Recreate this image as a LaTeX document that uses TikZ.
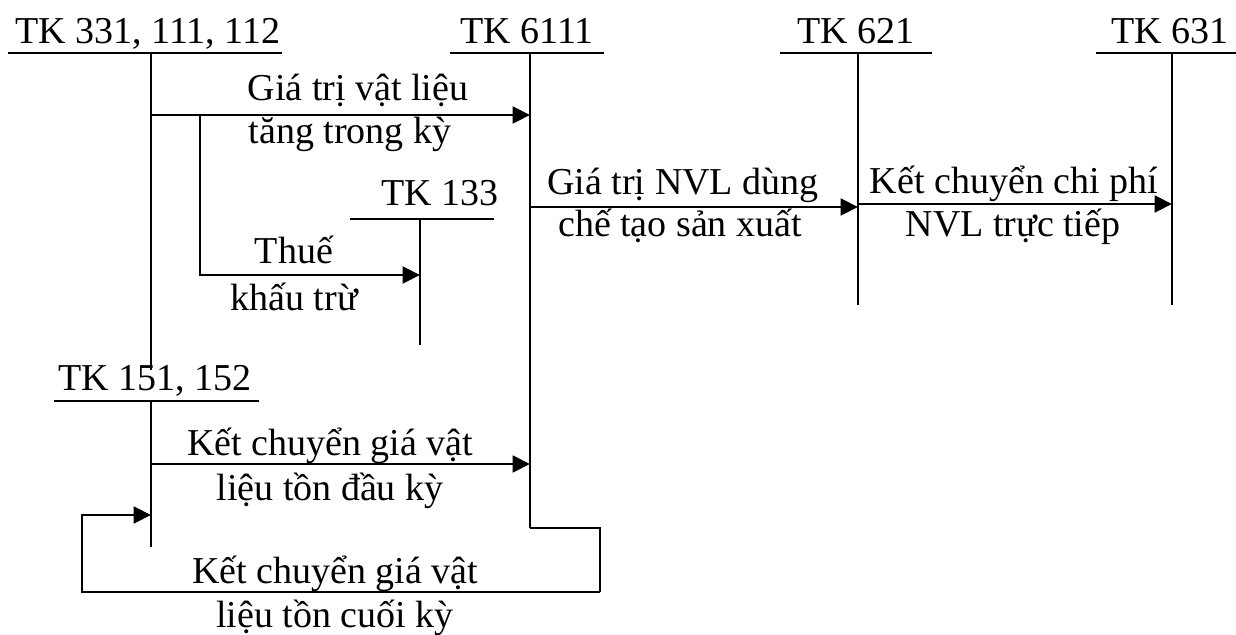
\documentclass[tikz,border=0pt]{standalone}
\usepackage{fontspec}
\setmainfont{Liberation Serif}
\usetikzlibrary{arrows.meta}
\begin{document}
\begin{tikzpicture}[x=0.75pt,y=-0.75pt,
  acct/.style={line width=1.5pt},
  flow/.style={line width=2.2pt,-{Triangle[length=13pt,width=12.5pt]}},
  lbl/.style={font=\fontsize{28.5}{32}\selectfont, inner sep=0pt, anchor=base}]
\useasboundingbox (0,0) rectangle (1236,635);

% account headings
\node[lbl] (h331)  at (148,44)  {TK 331, 111, 112};
\node[lbl] (h6111) at (527,44)  {TK 6111};
\node[lbl] (h621)  at (856,44)  {TK 621};
\node[lbl] (h631)  at (1170,44) {TK 631};
\node[lbl] (h133)  at (440,205) {TK 133};
\node[lbl] (h151)  at (155,390) {TK 151, 152};

% T-account rules
\coordinate (u331a) at (8,53);    \coordinate (u331b) at (282,53);
\coordinate (t331)  at (151,53);  \coordinate (b331)  at (151,370);
\coordinate (u6111a) at (450,53); \coordinate (u6111b) at (604,53);
\coordinate (t6111) at (530,53);  \coordinate (b6111) at (530,528);
\coordinate (u621a) at (780,53);  \coordinate (u621b) at (932,53);
\coordinate (t621)  at (858,53);  \coordinate (b621)  at (858,305);
\coordinate (u631a) at (1096,53); \coordinate (u631b) at (1236,53);
\coordinate (t631)  at (1172,53); \coordinate (b631)  at (1172,305);
\coordinate (u133a) at (350,219); \coordinate (u133b) at (494,219);
\coordinate (t133)  at (420,219); \coordinate (b133)  at (420,345);
\coordinate (u151a) at (54,401);  \coordinate (u151b) at (259,401);
\coordinate (t151)  at (151,401); \coordinate (b151)  at (151,547);

\draw[acct] (u331a) -- (u331b) (t331) -- (b331);
\draw[acct] (u6111a) -- (u6111b) (t6111) -- (b6111);
\draw[acct] (u621a) -- (u621b) (t621) -- (b621);
\draw[acct] (u631a) -- (u631b) (t631) -- (b631);
\draw[acct] (u133a) -- (u133b) (t133) -- (b133);
\draw[acct] (u151a) -- (u151b) (t151) -- (b151);

% flows
\coordinate (f1a) at (151,115); \coordinate (f1b) at (530,115);
\coordinate (f2a) at (200,115); \coordinate (f2c) at (200,275); \coordinate (f2b) at (420,275);
\coordinate (f3a) at (530,207); \coordinate (f3b) at (858,207);
\coordinate (f4a) at (858,204); \coordinate (f4b) at (1172,204);
\coordinate (f5a) at (151,464); \coordinate (f5b) at (530,464);
\coordinate (l1) at (600,528); \coordinate (l2) at (600,592);
\coordinate (l3) at (82,592);  \coordinate (l4) at (82,515);
\coordinate (l5) at (151,515);

\draw[flow] (f1a) -- (f1b);
\draw[flow] (f2a) -- (f2c) -- (f2b);
\draw[flow] (f3a) -- (f3b);
\draw[flow] (f4a) -- (f4b);
\draw[flow] (f5a) -- (f5b);
\draw[acct] (b6111) -- (l1) -- (l2);
\draw[flow] (l2) -- (l3) -- (l4) -- (l5);

% flow labels
\node[lbl] (g1) at (358,101) {Giá trị vật liệu};
\node[lbl] (g2) at (350,143) {tăng trong kỳ};
\node[lbl] (t1) at (294,263) {Thuế};
\node[lbl] (t2) at (294,310) {khấu trừ};
\node[lbl] (n1) at (683,195) {Giá trị NVL dùng};
\node[lbl] (n2) at (680,236) {chế tạo sản xuất};
\node[lbl] (k1) at (1014,193) {Kết chuyển chi phí};
\node[lbl] (k2) at (1013,236) {NVL trực tiếp};
\node[lbl] (d1) at (330,455) {Kết chuyển giá vật};
\node[lbl] (d2) at (330,500) {liệu tồn đầu kỳ};
\node[lbl] (c1) at (335,583) {Kết chuyển giá vật};
\node[lbl] (c2) at (335,627) {liệu tồn cuối kỳ};
\end{tikzpicture}
\end{document}
